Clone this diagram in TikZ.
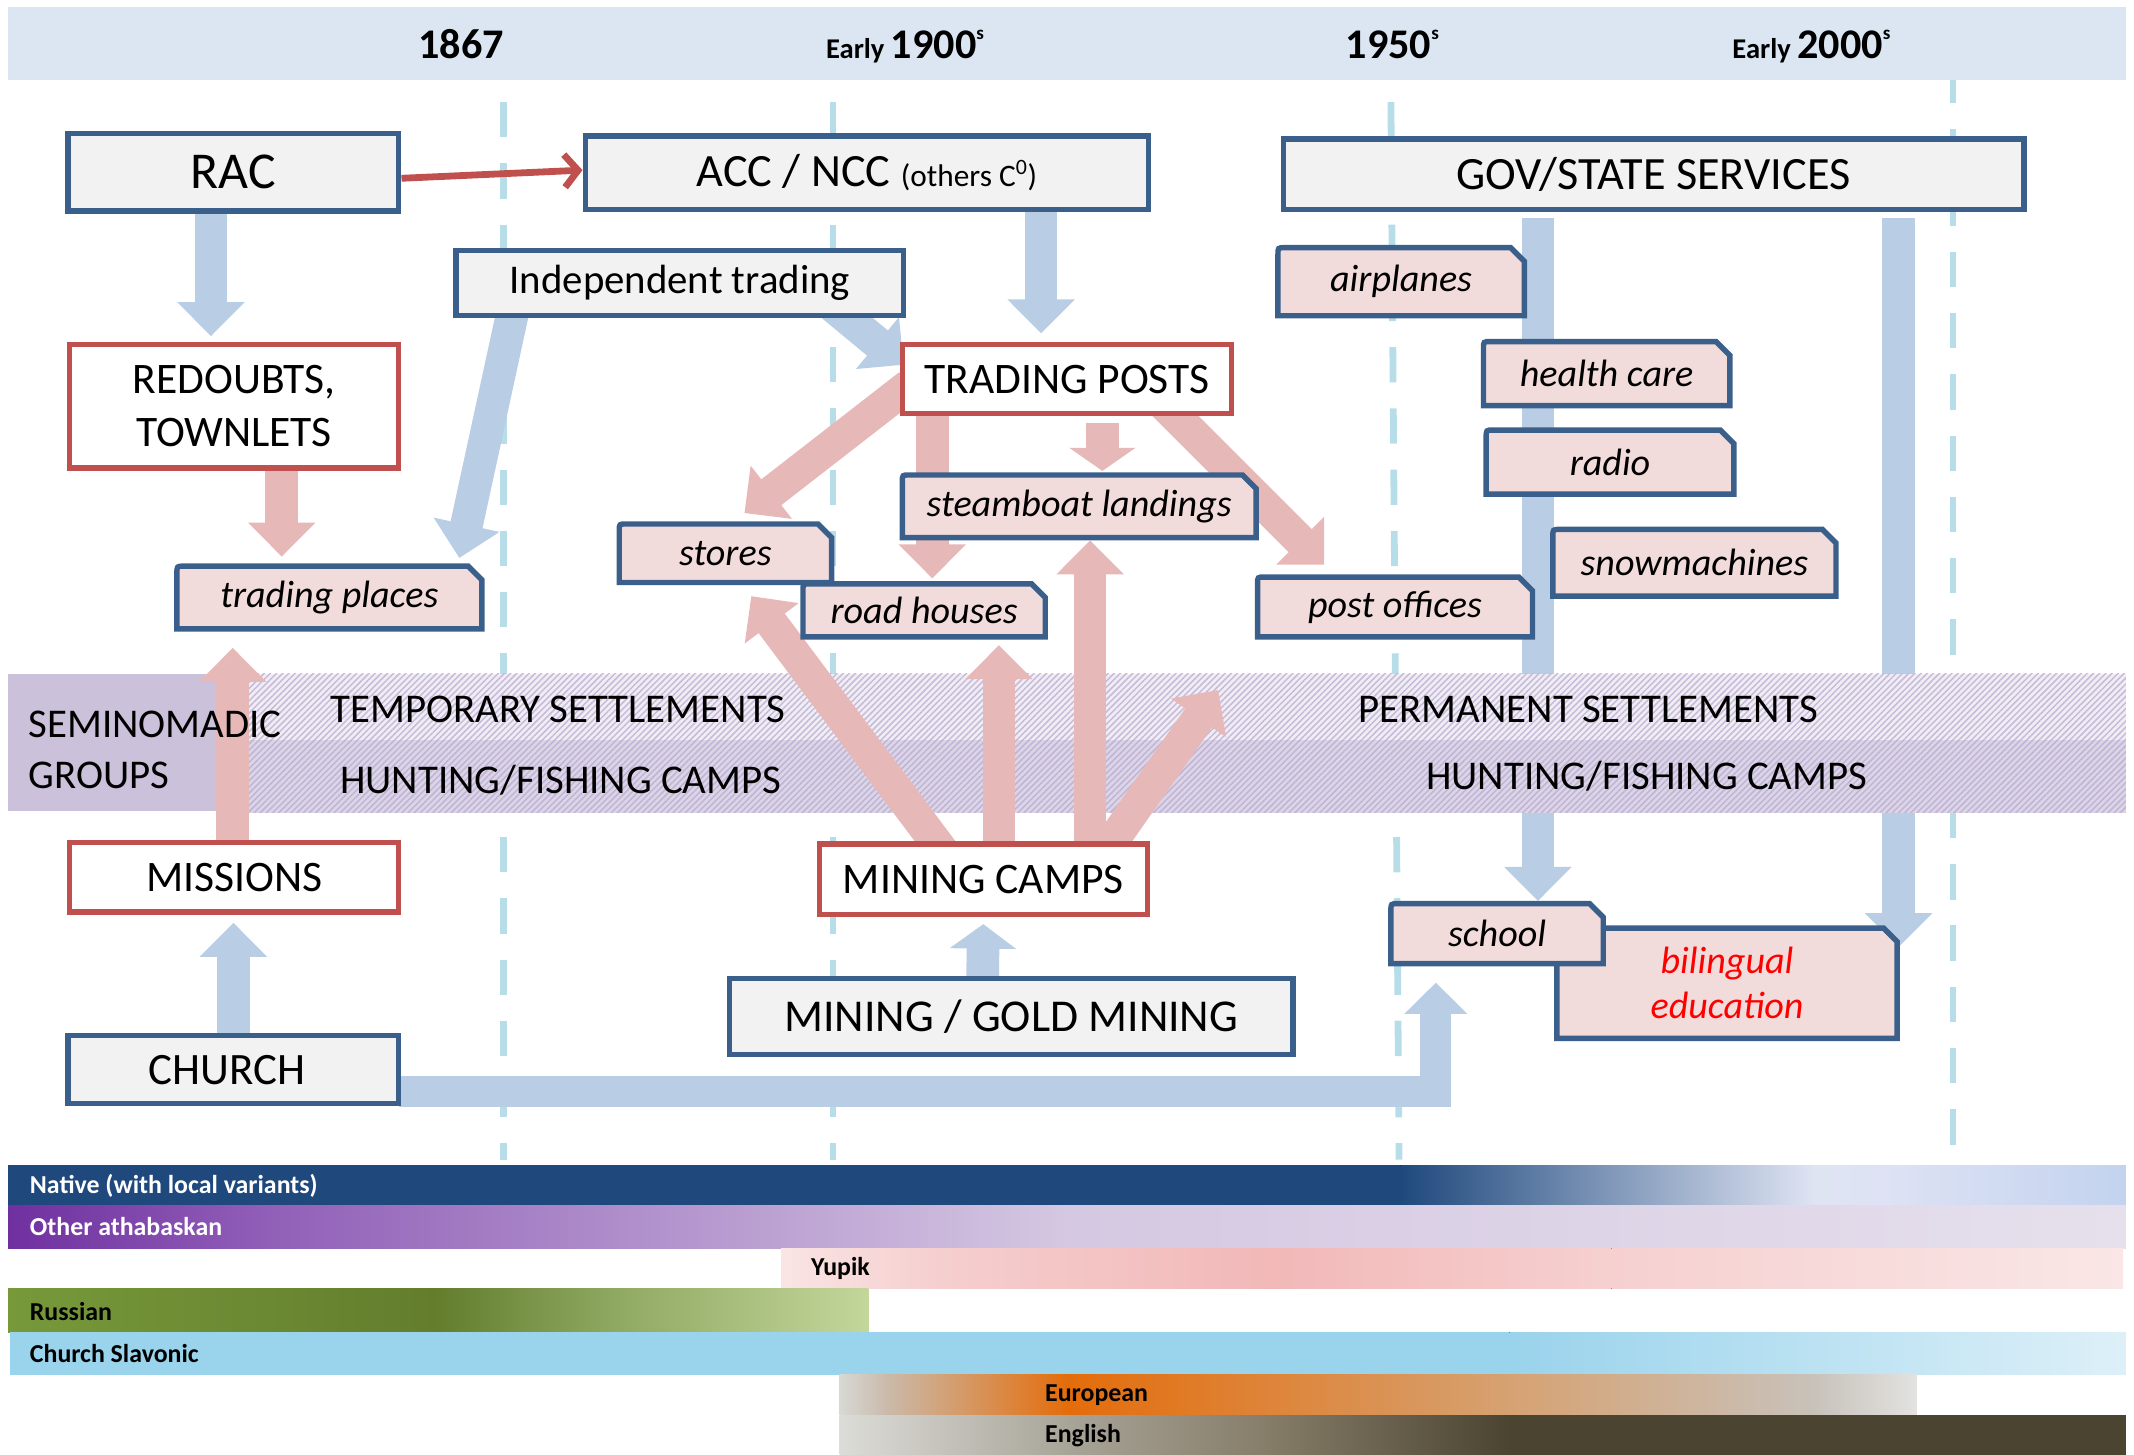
\documentclass[tikz,border=0pt]{standalone}
\usepackage{fontspec}
\setmainfont{Carlito}
\usetikzlibrary{arrows.meta,calc,patterns.meta}
\definecolor{cHdr}{HTML}{DCE6F2}
\definecolor{cDash}{HTML}{B7DEE8}
\definecolor{cBbord}{HTML}{3A5F8B}
\definecolor{cBfill}{HTML}{F2F2F2}
\definecolor{cRbord}{HTML}{C0504D}
\definecolor{cTfill}{HTML}{F2DCDB}
\definecolor{cBarr}{HTML}{B9CDE5}
\definecolor{cParr}{HTML}{E6B9B8}
\definecolor{cLav}{HTML}{CCC1DA}
\definecolor{cBandUp}{HTML}{F0EDF5}
\definecolor{cLineUp}{HTML}{C6BBD8}
\definecolor{cBandLo}{HTML}{DCD5E8}
\definecolor{cLineLo}{HTML}{C0B4D4}
\definecolor{cNat}{HTML}{1F497D}
\definecolor{cSla}{HTML}{9AD3EC}
\definecolor{cEng}{HTML}{4A4430}
\definecolor{cRedTxt}{HTML}{FF0000}
\pgfdeclarelayer{bg}\pgfdeclarelayer{bluelayer}\pgfdeclarelayer{bandlayer}\pgfdeclarelayer{pinklayer}
\pgfsetlayers{bg,bluelayer,bandlayer,pinklayer,main}
\newcommand\fs[1]{\fontsize{#1}{#1}\selectfont}
\newcommand\seg[6]{\definecolor{sgA}{HTML}{#5}\definecolor{sgB}{HTML}{#6}\fill[left color=sgA,right color=sgB] (#1,#3) rectangle (#2,#4);}
\newcommand\tagbox[7]{%
  \filldraw[tagshape] ({#3+2},{#6-2}) -- ({#3+2},{#4+7}) .. controls ({#3+2},{#4+2}) .. ({#3+7},{#4+2}) -- ({#5-12},{#4+2}) -- ({#5-2},{#4+12}) -- ({#5-2},{#6-2}) -- cycle;
  \node[tagtxt,#2,minimum width={#5-#3-4},minimum height={#6-#4-4}] (#1) at ({(#3+#5)/2},{(#4+#6)/2}) {#7};
}
\tikzset{
  x=1pt, y=-1pt,
  every node/.style={outer sep=0pt, inner sep=0pt},
  bluebox/.style={draw=cBbord, fill=cBfill, line width=4pt},
  redbox/.style={draw=cRbord, fill=white, line width=4pt},
  tagshape/.style={draw=cBbord, fill=cTfill, line width=4pt},
  tagtxt/.style={font=\fs{28}\itshape, align=center},
  bluearrow/.style={draw=cBarr, line width=24pt, line join=miter, -{Triangle[width=48pt,length=25pt]}},
  pinkarrow/.style={draw=cParr, line width=24pt, -{Triangle[width=48pt,length=25pt]}},
  dashln/.style={draw=cDash, line width=5pt, dash pattern=on 26pt off 19pt},
  lang/.style={font=\fs{19}\bfseries, anchor=west},
  bandtxt/.style={font=\fs{30}, anchor=base},
}
\begin{document}
\begin{tikzpicture}
\useasboundingbox (0,0) rectangle (1568,1069);
% ---------- background
\begin{pgfonlayer}{bg}
\fill[cHdr] (6,5) rectangle (1562,59);
\draw[dashln] (370,75) -- (370,852);
\draw[dashln] (612,75) -- (612,852);
\draw[dashln] (1022,75) -- (1028,852);
\draw[dashln, dash phase=9pt] (1435,59) -- (1435,852);
\end{pgfonlayer}
% ---------- header
\node[anchor=base, font=\bfseries] (t1867) at (339,43) {\fs{31}1867};
\node[anchor=base, font=\bfseries] (t1900) at (665,43) {\fs{21}Early \fs{31}1900\raisebox{14pt}{\fs{14}s}};
\node[anchor=base, font=\bfseries] (t1950) at (1023,43) {\fs{31}1950\raisebox{14pt}{\fs{14}s}};
\node[anchor=base, font=\bfseries] (t2000) at (1331,43) {\fs{21}Early \fs{31}2000\raisebox{14pt}{\fs{14}s}};
% ---------- blue boxes
\node[bluebox, minimum width=243, minimum height=57, font=\fs{38}] (rac) at (171.5,126.5) {RAC};
\node[bluebox, minimum width=414, minimum height=54, font=\fs{34}] (acc) at (637,127) {ACC / NCC {\fs{23}(others C\textsuperscript{0})}};
\node[bluebox, minimum width=544, minimum height=52, font=\fs{34}] (gov) at (1215,128) {GOV/STATE SERVICES};
\node[bluebox, minimum width=329, minimum height=48, font=\fs{30}] (indep) at (499.5,208) {Independent trading};
\node[bluebox, minimum width=243, minimum height=50, font=\fs{33}] (church) at (171.5,786) {\hspace*{-9pt}CHURCH};
\node[bluebox, minimum width=414, minimum height=56, font=\fs{33.5}] (mining) at (743,747) {MINING / GOLD MINING};
% ---------- red boxes
\node[redbox, minimum width=242, minimum height=91, font=\fontsize{32}{39}\selectfont, align=center] (redoubts) at (172,298.5) {REDOUBTS,\\TOWNLETS};
\node[redbox, minimum width=242, minimum height=51, font=\fs{32}] (tposts) at (784,278.5) {TRADING POSTS};
\node[redbox, minimum width=242, minimum height=51, font=\fs{32}] (missions) at (172,644.5) {MISSIONS};
\node[redbox, minimum width=241, minimum height=52, font=\fs{32}] (mcamps) at (722.5,646) {MINING CAMPS};
\draw[cRbord, line width=5pt, -{Straight Barb[length=10pt,width=24pt]}] ($(rac.east)+(2,4.5)$) -- ($(acc.west)+(-2,-2)$);
% ---------- tags
\tagbox{tplaces}{}{128}{414}{356}{464}{trading places}
\tagbox{airplanes}{}{937}{180}{1122}{234}{airplanes}
\tagbox{health}{}{1088}{249}{1273}{300}{health care}
\tagbox{radio}{}{1090}{314}{1276}{365}{radio}
\tagbox{snow}{}{1139}{387}{1351}{440}{snowmachines}
\tagbox{stores}{}{453}{383}{613}{430}{stores}
\tagbox{road}{}{588}{427}{770}{470}{road houses}
\tagbox{steam}{}{661}{347}{925}{397}{steamboat landings}
\tagbox{post}{}{922}{422}{1128}{470}{post offices}
\tagbox{biling}{text=cRedTxt, font=\fontsize{28}{33}\selectfont\itshape}{1142}{680}{1396}{765}{bilingual\\education}
\tagbox{school}{}{1020}{662}{1180}{710}{school}
% ---------- band labels
\node[font=\fontsize{30}{37}\selectfont, align=left, anchor=west] (semi) at (21,551) {SEMINOMADIC\\GROUPS};
\node[bandtxt] (temp) at (410,531) {TEMPORARY SETTLEMENTS};
\node[bandtxt] (hunt1) at (412,583) {HUNTING/FISHING CAMPS};
\node[bandtxt] (perm) at (1167,531) {PERMANENT SETTLEMENTS};
\node[bandtxt] (hunt2) at (1210,580) {HUNTING/FISHING CAMPS};
\coordinate (permset) at (895,507);
% ---------- blue arrows
\begin{pgfonlayer}{bluelayer}
\draw[bluearrow] ($(rac.south)+(-16.5,2)$) -- ($(redoubts.north)+(-17,-6)$);
\draw[bluearrow] ($(acc.south)+(128,2)$) -- ($(tposts.north)+(-19,-8)$);
\draw[bluearrow] ($(indep.south west)+(44,-13)$) -- ($(tplaces.north east)+(-16.5,-6)$);
\draw[bluearrow] ($(indep.east)+(-64,7)$) -- ($(tposts.north west)+(1,15)$);
\draw[bluearrow] ($(gov.south)+(-85,6)$) -- ($(school.north)+(30,-2)$);
\draw[bluearrow] ($(gov.south)+(180,6)$) -- ($(biling.north east)+(1,14)$);
\draw[bluearrow] ($(church.north)+(0,0)$) -- ($(missions.south)+(-0.5,8)$);
\draw[bluearrow, -{Triangle[width=48pt,length=18pt]}] ($(mining.north)+(-21,0)$) -- ($(mcamps.south)+(0,7)$);
\draw[bluearrow, line width=23pt, -{Triangle[width=45pt,length=23pt]}] ($(church.east)+(0,16)$) -| ($(school.south west)+(33,14)$);
\end{pgfonlayer}
% ---------- band
\begin{pgfonlayer}{bandlayer}
\fill[cLav] (6,495) rectangle (183,596);
\fill[cBandUp] (183,495) rectangle (1562,544);
\fill[pattern={Lines[angle=45,distance=3.2pt,line width=1.1pt]}, pattern color=cLineUp] (183,495) rectangle (1562,544);
\fill[cBandLo] (183,544) rectangle (1562,597);
\fill[pattern={Lines[angle=45,distance=3.2pt,line width=1.1pt]}, pattern color=cLineLo] (183,544) rectangle (1562,597);
\end{pgfonlayer}
% ---------- pink arrows
\begin{pgfonlayer}{pinklayer}
\draw[pinkarrow] ($(redoubts.south)+(35,0)$) -- ($(tplaces.north)+(-35,-7)$);
\draw[pinkarrow] ($(missions.north)+(-1,0)$) -- ($(tplaces.south)+(-71,14)$);
\draw[pinkarrow] ($(tposts.west)+(5,4.5)$) -- ($(stores.north)+(14,-8)$);
\draw[pinkarrow] ($(tposts.south west)+(22,0)$) -- ($(road.north)+(6,-4)$);
\draw[pinkarrow, -{Triangle[width=48pt,length=17pt]}] ($(tposts.south)+(26,7)$) -- ($(steam.north)+(17,-3)$);
\draw[pinkarrow] ($(tposts.south east)+(-55,-12)$) -- ($(post.north)+(-52,-9)$);
\draw[pinkarrow] ($(mcamps.north)+(-25,12)$) -- ($(road.west)+(-38,-10.5)$);
\draw[pinkarrow] ($(mcamps.north)+(11.5,0)$) -- ($(road.south)+(55,6)$);
\draw[pinkarrow] ($(mcamps.north)+(78.5,0)$) -- ($(steam.south)+(8,2)$);
\draw[pinkarrow] ($(mcamps.north)+(86.5,10)$) -- (permset);
\end{pgfonlayer}
% ---------- language bars
\fill[cNat] (6,856) rectangle (1030,886);
\seg{1029}{1334}{856}{886}{1F497D}{DFE4F3}
\seg{1333}{1385}{856}{886}{DFE4F3}{DEE2F4}
\seg{1384}{1562}{856}{886}{DEE2F4}{C3D3EE}
\seg{6}{201}{886}{917}{7030A0}{9160B8}
\seg{200}{785}{886}{917}{9160B8}{D5C8E2}
\seg{784}{1562}{886}{917}{D5C8E2}{E6E0EC}
\seg{574}{701}{917}{947}{FAE4E4}{F5CDCD}
\seg{700}{935}{917}{947}{F5CDCD}{F2B8B8}
\seg{934}{1185}{917}{947}{F2B8B8}{F6D0D0}
\seg{1184}{1560}{917}{947}{F6D0D0}{FAE6E6}
\seg{6}{321}{947}{979}{77993A}{637D2D}
\seg{320}{451}{947}{979}{637D2D}{8FA861}
\seg{450}{638}{947}{979}{8FA861}{C3D69B}
\fill[cSla] (7,979) rectangle (1110,1010);
\seg{1109}{1562}{979}{1010}{9AD3EC}{DDF0F8}
\seg{617}{651}{1010}{1040}{D8D8D4}{CABBAC}
\seg{650}{785}{1010}{1040}{CABBAC}{E46C0A}
\seg{784}{1110}{1010}{1040}{E46C0A}{D6A272}
\seg{1109}{1335}{1010}{1040}{D6A272}{C8C2BB}
\seg{1334}{1408}{1010}{1040}{C8C2BB}{E2E2DF}
\seg{617}{785}{1040}{1069}{DCDCD8}{A8A498}
\seg{784}{935}{1040}{1069}{A8A498}{857C68}
\seg{934}{1110}{1040}{1069}{857C68}{4B4430}
\fill[cEng] (1109,1040) rectangle (1562,1069);
\node[lang, text=white] (native) at (22,871) {Native (with local variants)};
\node[lang, text=white] (otherath) at (22,901.5) {Other athabaskan};
\node[lang] (yupik) at (596,932) {Yupik};
\node[lang] (russian) at (22,964) {Russian};
\node[lang] (slavonic) at (22,994.5) {Church Slavonic};
\node[lang] (european) at (768,1025) {European};
\node[lang] (english) at (768,1055) {English};
\end{tikzpicture}
\end{document}
